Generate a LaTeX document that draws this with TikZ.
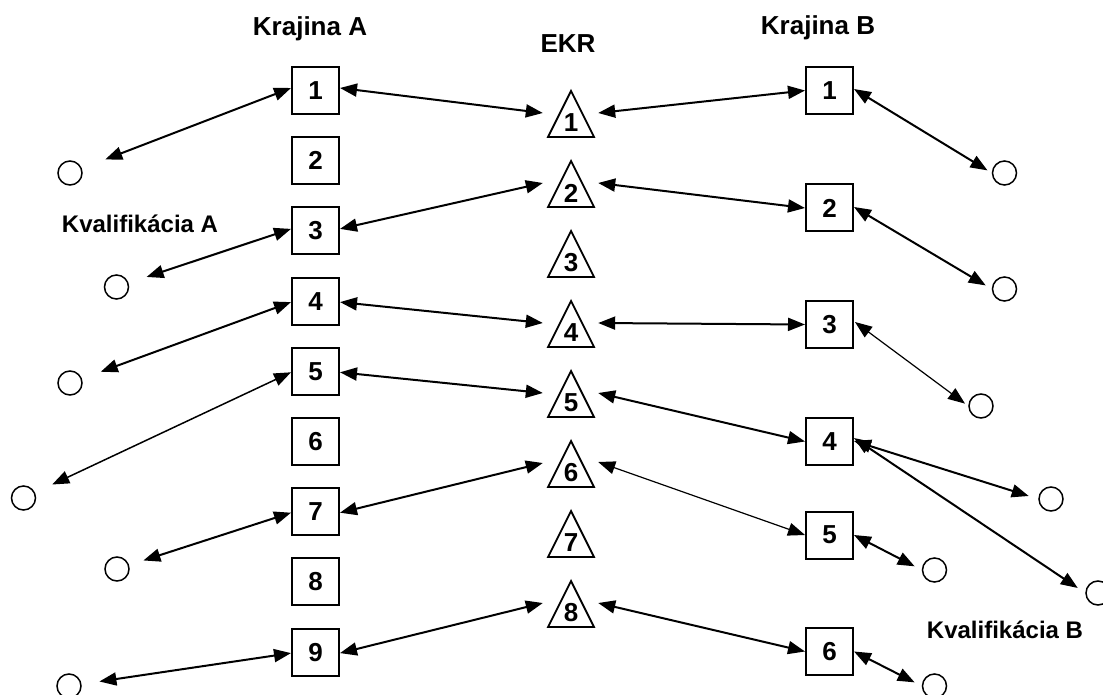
\documentclass[tikz,border=0pt]{standalone}
\usepackage{fontspec}
\setmainfont{Liberation Sans}
\usetikzlibrary{arrows.meta}
\begin{document}
\begin{tikzpicture}[x=1pt,y=-1pt,
  every node/.style={font=\fontsize{26}{30}\selectfont\bfseries},
  box/.style={draw,line width=2pt,minimum size=47pt,inner sep=0pt},
  circ/.style={draw,circle,line width=1.5pt,minimum size=24pt,inner sep=0pt},
  tripoint/.style={inner sep=0pt,minimum width=55pt,minimum height=1pt},
  trishape/.style={line width=1.8pt,line join=miter},
  lbl/.style={inner sep=0pt},
  qlbl/.style={inner sep=0pt,font=\fontsize{24}{28}\selectfont\bfseries},
  arr/.style={line width=2pt,{Triangle[length=17pt,width=13pt]}-{Triangle[length=17pt,width=13pt]}},
  arrthin/.style={arr,line width=1.2pt}]
\useasboundingbox (0,0) rectangle (1103,695);
\clip (0,0) rectangle (1103,695);
% titles
\node[lbl] (kA) at (310,29) {Krajina A};
\node[lbl] (ekr) at (568,44) {EKR};
\node[lbl] (kB) at (818,28) {Krajina B};
\node[qlbl] (qA) at (140,224) {Kvalifikácia A};
\node[qlbl] (qB) at (1005,630) {Kvalifikácia B};
% left boxes
\foreach \i in {1,...,9} {
  \pgfmathsetmacro\yy{90.5+70.2*(\i-1)}
  \node[box] (a\i) at (315.5,\yy) {\i};
}
% triangles
\foreach \i in {1,...,8} {
  \pgfmathsetmacro\yy{91+70*(\i-1)}
  \draw[trishape] (548,\yy+46) -- (571,\yy) -- (594,\yy+46) -- cycle;
  \node[lbl] (n\i) at (571,\yy+32) {\i};
  \node[tripoint] (t\i) at (570.5,\yy+22) {};
}
% right boxes
\node[box] (b1) at (829.5,90.5) {1};
\node[box] (b2) at (829.5,208) {2};
\node[box] (b3) at (829.5,324.5) {3};
\node[box] (b4) at (829.5,441.5) {4};
\node[box] (b5) at (829.5,535) {5};
\node[box] (b6) at (829.5,651.5) {6};
% left circles
\node[circ] (c1) at (70,173) {};
\node[circ] (c2) at (116.5,287) {};
\node[circ] (c3) at (70,383) {};
\node[circ] (c4) at (23.5,498) {};
\node[circ] (c5) at (117,569) {};
\node[circ] (c6) at (69,686) {};
% right circles
\node[circ] (d1) at (1004.5,173) {};
\node[circ] (d2) at (1004.5,289) {};
\node[circ] (d3) at (981,406) {};
\node[circ] (d4) at (1051,499) {};
\node[circ] (d5) at (934.5,570) {};
\node[circ] (d6) at (1098,593) {};
\node[circ] (d7) at (934.5,686) {};
% left box - circle
\draw[arr,shorten >=25pt] ([yshift=2.5pt]a1.west) -- (c1);
\draw[arr,shorten >=19pt] ([yshift=2pt]a3.west) -- (c2);
\draw[arr,shorten >=20pt] ([yshift=-1pt]a4.west) -- (c3);
\draw[arr,line width=1.5pt,shorten >=19pt] ([yshift=-1pt]a5.west) -- (c4);
\draw[arr,shorten >=15pt] ([yshift=-1pt]a7.west) -- (c5);
\draw[arr,shorten >=18pt] ([yshift=-1pt]a9.west) -- (c6);
% left box - triangle
\draw[arr] ([yshift=2.5pt]a1.east) -- (t1.west);
\draw[arr] ([yshift=2pt]a3.east) -- (t2.west);
\draw[arr] ([yshift=-1pt]a4.east) -- (t4.west);
\draw[arr] ([yshift=-1pt]a5.east) -- (t5.west);
\draw[arr] ([yshift=-1pt]a7.east) -- (t6.west);
\draw[arr] ([yshift=-1pt]a9.east) -- (t8.west);
% triangle - right box
\draw[arr] (t1.east) -- (b1.west);
\draw[arr] (t2.east) -- (b2.west);
\draw[arr] (t4.east) -- (b3.west);
\draw[arr] (t5.east) -- (b4.west);
\draw[arrthin] ([yshift=1pt]t6.east) -- (b5.west);
\draw[arr] (t8.east) -- (b6.west);
% right box - circle
\draw[arr,shorten >=5pt] ([yshift=1.5pt]b1.east) -- (d1.west);
\draw[arr,shorten >=7pt] ([yshift=1pt]b2.east) -- (d2.west);
\draw[arrthin,shorten >=4pt] ([xshift=1pt,yshift=2.5pt]b3.east) -- (d3.west);
\draw[arr,shorten >=10pt] ([yshift=0.5pt]b4.east) -- (d4.west);
\draw[arr,shorten >=9pt] ([yshift=3.5pt]b4.east) -- (d6.west);
\draw[arr,shorten >=8pt] (b5.east) -- (d5.west);
\draw[arr,shorten >=8pt] (b6.east) -- (d7.west);
\end{tikzpicture}
\end{document}
